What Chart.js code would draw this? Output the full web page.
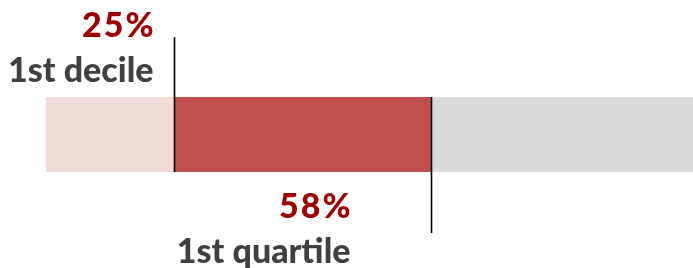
<!DOCTYPE html>
<html>
<head>
<meta charset="utf-8">
<script src="https://cdn.jsdelivr.net/npm/chart.js@4.4.1/dist/chart.umd.min.js"></script>
<style>
  html, body { margin: 0; padding: 0; background: #fff; }
  #wrap { width: 693px; height: 268px; }
</style>
</head>
<body>
<div id="wrap"><canvas id="grafico"></canvas></div>
<script>
// dados
const categorias = ["Distribution"];
const limites = [8.6, 25, 58, 100];
const coresSegmentos = ["#F2DCDB", "#C0504D", "#D9D9D9"];
const marcadores = [25, 58];
const rotulosPct = ["25%", "58%"];
const rotulosNome = ["1st decile", "1st quartile"];

const datasets = coresSegmentos.map((cor, i) => ({
  data: [[limites[i], limites[i + 1]]],
  backgroundColor: cor,
  borderWidth: 0,
  barPercentage: 1,
  categoryPercentage: 1,
}));

// linhas verticais + textos
const marcadoresPlugin = {
  id: "marcadores",
  afterDraw(chart) {
    const ctx = chart.ctx;
    const x = chart.scales.x;
    const area = chart.chartArea;
    ctx.save();
    ctx.strokeStyle = "#000";
    ctx.lineWidth = 1.6;
    ctx.textAlign = "right";
    ctx.textBaseline = "alphabetic";
    marcadores.forEach((v, i) => {
      const px = Math.round(x.getPixelForValue(v)) + 0.5;
      ctx.beginPath();
      if (i === 0) {
        ctx.moveTo(px, area.top - 60);
        ctx.lineTo(px, area.bottom);
      } else {
        ctx.moveTo(px, area.top);
        ctx.lineTo(px, area.bottom + 61);
      }
      ctx.stroke();

      const dx = i === 0 ? 21 : 81;
      const yPct = i === 0 ? area.top - 60 : area.bottom + 46;
      const yNome = i === 0 ? area.top - 15 : area.bottom + 91;
      ctx.font = "900 34px Lato";
      ctx.letterSpacing = "2px";
      ctx.fillStyle = "#A00000";
      ctx.fillText(rotulosPct[i], px - dx + 2, yPct);
      ctx.letterSpacing = "0px";
      ctx.fillStyle = "#404040";
      ctx.fillText(rotulosNome[i], px - dx, yNome);
    });
    ctx.restore();
  },
};

new Chart(document.getElementById("grafico"), {
  type: "bar",
  data: { labels: categorias, datasets: datasets },
  options: {
    indexAxis: "y",
    responsive: true,
    maintainAspectRatio: false,
    animation: false,
    layout: { padding: { top: 97, bottom: 96, left: 0, right: 0 } },
    plugins: { legend: { display: false }, tooltip: { enabled: false } },
    scales: {
      x: { stacked: false, min: 2.66, max: 91.6, display: false },
      y: { stacked: true, display: false },
    },
  },
  plugins: [marcadoresPlugin],
});
</script>
</body>
</html>
